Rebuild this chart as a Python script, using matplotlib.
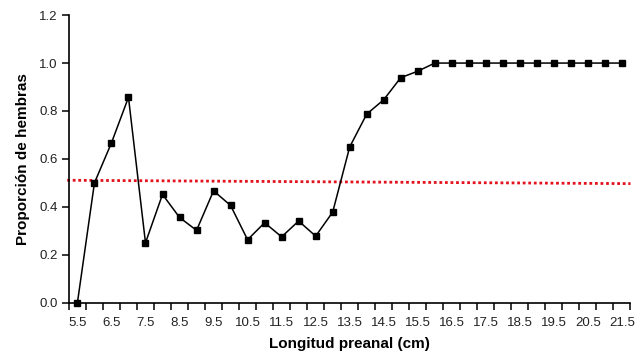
import matplotlib
matplotlib.use("Agg")
import matplotlib.pyplot as plt
from matplotlib.ticker import FixedLocator, FixedFormatter

plt.rcParams['font.family'] = ['Liberation Sans', 'DejaVu Sans']

# Data
longitud = [5.5, 6.0, 6.5, 7.0, 7.5, 8.0, 8.5, 9.0, 9.5, 10.0, 10.5,
            11.0, 11.5, 12.0, 12.5, 13.0, 13.5, 14.0, 14.5, 15.0, 15.5,
            16.0, 16.5, 17.0, 17.5, 18.0, 18.5, 19.0, 19.5, 20.0, 20.5,
            21.0, 21.5]
proporcion = [0.0, 0.50, 0.667, 0.857, 0.25, 0.452, 0.356, 0.302, 0.467,
              0.406, 0.263, 0.334, 0.275, 0.341, 0.278, 0.378, 0.65, 0.787,
              0.847, 0.939, 0.966, 1.0, 1.0, 1.0, 1.0, 1.0, 1.0, 1.0, 1.0,
              1.0, 1.0, 1.0, 1.0]
ref_x = [5.2, 21.75]
ref_y = [0.511, 0.497]

x_labels = ["5.5", "6.5", "7.5", "8.5", "9.5", "10.5", "11.5", "12.5",
            "13.5", "14.5", "15.5", "16.5", "17.5", "18.5", "19.5", "20.5",
            "21.5"]
x_label_pos = [5.5, 6.5, 7.5, 8.5, 9.5, 10.5, 11.5, 12.5, 13.5, 14.5,
               15.5, 16.5, 17.5, 18.5, 19.5, 20.5, 21.5]
x_bounds = [5.25, 5.75, 6.25, 6.75, 7.25, 7.75, 8.25, 8.75, 9.25, 9.75,
            10.25, 10.75, 11.25, 11.75, 12.25, 12.75, 13.25, 13.75, 14.25,
            14.75, 15.25, 15.75, 16.25, 16.75, 17.25, 17.75, 18.25, 18.75,
            19.25, 19.75, 20.25, 20.75, 21.25, 21.75]
y_ticks = [0.0, 0.2, 0.4, 0.6, 0.8, 1.0, 1.2]

fig = plt.figure(figsize=(6.44, 3.6), dpi=100)
ax = fig.add_axes([0.107, 0.159, 0.872, 0.799])

ax.plot(ref_x, ref_y, color='#e3121c', linestyle=(0, (1, 1)), linewidth=2.0,
        clip_on=False, zorder=2)
ax.plot(longitud, proporcion, color='black', linewidth=1.1, marker='s',
        markersize=5, markerfacecolor='black', markeredgecolor='black',
        clip_on=False, zorder=3)

ax.set_xlim(5.25, 21.75)
ax.set_ylim(0, 1.2)

ax.xaxis.set_major_locator(FixedLocator(x_bounds))
ax.xaxis.set_major_formatter(FixedFormatter([""] * len(x_bounds)))
ax.xaxis.set_minor_locator(FixedLocator(x_label_pos))
ax.xaxis.set_minor_formatter(FixedFormatter(x_labels))
ax.tick_params(axis='x', which='major', direction='out', length=5, width=1.1)
ax.tick_params(axis='x', which='minor', length=0, labelsize=9.5, pad=10,
               colors='#222222')

ax.set_yticks(y_ticks)
ax.set_yticklabels([f"{v:.1f}" for v in y_ticks])
ax.tick_params(axis='y', direction='out', length=5, width=1.1, labelsize=9.5,
               pad=3, labelcolor='#222222')

for s in ['top', 'right']:
    ax.spines[s].set_visible(False)
for s in ['left', 'bottom']:
    ax.spines[s].set_linewidth(1.2)

ax.set_xlabel("Longitud preanal (cm)", fontsize=11, fontweight='bold',
              labelpad=6)
ax.set_ylabel("Proporción de hembras", fontsize=11, fontweight='bold',
              labelpad=7)

fig.savefig("out.png", dpi=100)
